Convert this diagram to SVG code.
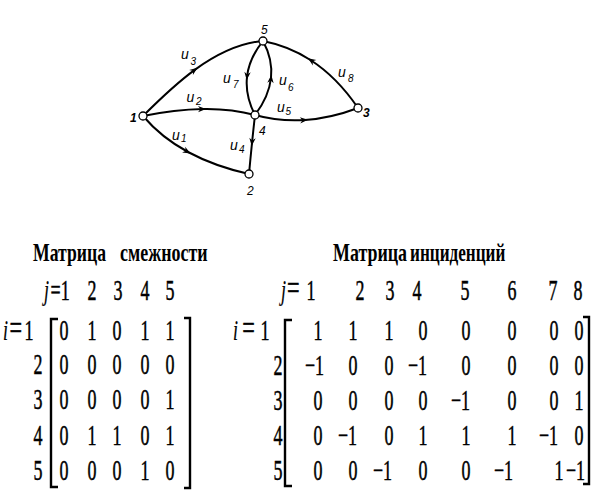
<svg xmlns="http://www.w3.org/2000/svg" width="610" height="503" viewBox="0 0 610 503">
<style>
.e{fill:none;stroke:#000;stroke-width:2;marker-mid:url(#arr)}
.nd{fill:#fff;stroke:#000;stroke-width:1.3}
.lb{font-family:"Liberation Sans",sans-serif;font-style:italic;font-size:14px;fill:#000}
.sb{font-family:"Liberation Sans",sans-serif;font-style:italic;font-size:10px;fill:#000}
.nl{font-family:"Liberation Sans",sans-serif;font-style:italic;font-size:12px;fill:#000}
.t{font-family:"Liberation Serif",serif;font-weight:bold;font-size:26px;fill:#000}
.d{font-family:"Liberation Serif",serif;font-size:29px;fill:#000;stroke:#000;stroke-width:0.5;text-anchor:middle}
.n{font-family:"Liberation Serif",serif;font-size:29px;fill:#000;stroke:#000;stroke-width:0.5;text-anchor:end}
.h{font-family:"Liberation Serif",serif;font-size:29px;fill:#000;stroke:#000;stroke-width:0.5}
.i{font-style:italic;stroke-width:0.2}
.w{font-size:36px}
.br{fill:none;stroke:#000;stroke-width:2.4}
</style>
<defs>
<marker id="arr" viewBox="-8 -5 12 10" refX="0" refY="0" markerWidth="12" markerHeight="10" markerUnits="userSpaceOnUse" orient="auto">
<path d="M3,0 L-5,-3.2 L-2.5,0 L-5,3.2 Z" fill="#000"/>
</marker>
</defs>
<g id="connectors">
<path id="u1" class="e" d="M143,116 Q161.5,137.75 188,152 Q214.5,166.25 249,174"/>
<path id="u2" class="e" d="M143,116 Q175,109.5 203,109 Q231,108.5 255,115"/>
<path id="u3" class="e" d="M143,116 C156.5,102.5 174.5,84.5 195.1,69.6 C215.75,54.75 239,43 263,41"/>
<path id="u4" class="e" d="M255,115 Q253.5,128.25 252,143 Q250.5,157.75 249,174"/>
<path id="u5" class="e" d="M255,115 Q279.25,121.75 305,120 Q330.75,118.25 358,108"/>
<path id="u6" class="e" d="M255,115 Q269,96.5 271,78 Q273,59.5 263,41"/>
<path id="u7" class="e" d="M263,41 Q249,58.5 247,77 Q245,95.5 255,115"/>
<path id="u8" class="e" d="M358,108 Q337.1,77.2 310.45,60 Q288.65,45.95 263,41"/>
</g>
<g id="edge-labels">
<text class="lb" x="181" y="58.5">u</text><text class="sb" x="190.5" y="65">3</text>
<text class="lb" x="223" y="83">u</text><text class="sb" x="233" y="88">7</text>
<text class="lb" x="279" y="85">u</text><text class="sb" x="288" y="91">6</text>
<text class="lb" x="338" y="77">u</text><text class="sb" x="348" y="82">8</text>
<text class="lb" x="186.5" y="102">u</text><text class="sb" x="196" y="105">2</text>
<text class="lb" x="277" y="112">u</text><text class="sb" x="285.5" y="115">5</text>
<text class="lb" x="172" y="140">u</text><text class="sb" x="181" y="142">1</text>
<text class="lb" x="230" y="150">u</text><text class="sb" x="239" y="153">4</text>
</g>
<g id="node1"><circle class="nd" cx="143" cy="116" r="4"/><text class="nl" x="130" y="122" font-weight="bold">1</text></g>
<g id="node2"><circle class="nd" cx="249" cy="174" r="4"/><text class="nl" x="247" y="195">2</text></g>
<g id="node3"><circle class="nd" cx="358" cy="108" r="4"/><text class="nl" x="363" y="117" font-weight="bold">3</text></g>
<g id="node4"><circle class="nd" cx="255" cy="115" r="4"/><text class="nl" x="259" y="135">4</text></g>
<g id="node5"><circle class="nd" cx="263" cy="41" r="4"/><text class="nl" x="261" y="34" font-size="10px">5</text></g>

<g id="adjacency">
<text class="t" transform="translate(33,261) scale(0.68,1)">Матрица</text>
<text class="t" transform="translate(120,261) scale(0.69,1)">смежности</text>
<text class="h" transform="translate(45,300) scale(0.62,1)"><tspan class="i" x="-1.5">j</tspan><tspan x="8.9">=</tspan><tspan x="25.5">1</tspan></text>
<text class="d" transform="translate(92,300) scale(0.62,1)">2</text>
<text class="d" transform="translate(118,300) scale(0.62,1)">3</text>
<text class="d" transform="translate(145,300) scale(0.62,1)">4</text>
<text class="d" transform="translate(170,300) scale(0.62,1)">5</text>
<text class="h" transform="translate(3,340) scale(0.62,1)"><tspan class="i" x="0">i</tspan><tspan class="w" x="10.5">=</tspan><tspan x="34.7">1</tspan></text>
<text class="d" transform="translate(38,374) scale(0.62,1)">2</text>
<text class="d" transform="translate(38,409) scale(0.62,1)">3</text>
<text class="d" transform="translate(38,445) scale(0.62,1)">4</text>
<text class="d" transform="translate(38,480) scale(0.62,1)">5</text>
<path class="br" d="M58,319 H51 V487 H58"/>
<path class="br" d="M184,318 H190 V488 H184"/>
<text class="d" transform="translate(64,340) scale(0.62,1)">0</text>
<text class="d" transform="translate(92,340) scale(0.62,1)">1</text>
<text class="d" transform="translate(117,340) scale(0.62,1)">0</text>
<text class="d" transform="translate(145,340) scale(0.62,1)">1</text>
<text class="d" transform="translate(170,340) scale(0.62,1)">1</text>
<text class="d" transform="translate(64,374) scale(0.62,1)">0</text>
<text class="d" transform="translate(92,374) scale(0.62,1)">0</text>
<text class="d" transform="translate(117,374) scale(0.62,1)">0</text>
<text class="d" transform="translate(145,374) scale(0.62,1)">0</text>
<text class="d" transform="translate(170,374) scale(0.62,1)">0</text>
<text class="d" transform="translate(64,409) scale(0.62,1)">0</text>
<text class="d" transform="translate(92,409) scale(0.62,1)">0</text>
<text class="d" transform="translate(117,409) scale(0.62,1)">0</text>
<text class="d" transform="translate(145,409) scale(0.62,1)">0</text>
<text class="d" transform="translate(170,409) scale(0.62,1)">1</text>
<text class="d" transform="translate(64,445) scale(0.62,1)">0</text>
<text class="d" transform="translate(92,445) scale(0.62,1)">1</text>
<text class="d" transform="translate(117,445) scale(0.62,1)">1</text>
<text class="d" transform="translate(145,445) scale(0.62,1)">0</text>
<text class="d" transform="translate(170,445) scale(0.62,1)">1</text>
<text class="d" transform="translate(64,480) scale(0.62,1)">0</text>
<text class="d" transform="translate(92,480) scale(0.62,1)">0</text>
<text class="d" transform="translate(117,480) scale(0.62,1)">0</text>
<text class="d" transform="translate(145,480) scale(0.62,1)">1</text>
<text class="d" transform="translate(170,480) scale(0.62,1)">0</text>
</g>

<g id="incidence">
<text class="t" transform="translate(333,261) scale(0.69,1)">Матрица</text>
<text class="t" transform="translate(410,261) scale(0.66,1)">инциденций</text>
<text class="h" transform="translate(281,300) scale(0.62,1)"><tspan class="i" x="0">j</tspan><tspan class="w" x="9.7">=</tspan><tspan x="41.1">1</tspan></text>
<text class="d" transform="translate(360,300) scale(0.62,1)">2</text>
<text class="d" transform="translate(390,300) scale(0.62,1)">3</text>
<text class="d" transform="translate(417,300) scale(0.62,1)">4</text>
<text class="d" transform="translate(465,300) scale(0.62,1)">5</text>
<text class="d" transform="translate(512,300) scale(0.62,1)">6</text>
<text class="d" transform="translate(553,300) scale(0.62,1)">7</text>
<text class="d" transform="translate(578,300) scale(0.62,1)">8</text>
<text class="h" transform="translate(233,340) scale(0.62,1)"><tspan class="i" x="0">i</tspan><tspan class="w" x="15">=</tspan><tspan x="44.4">1</tspan></text>
<text class="d" transform="translate(278,375) scale(0.62,1)">2</text>
<text class="d" transform="translate(278,410) scale(0.62,1)">3</text>
<text class="d" transform="translate(278,445) scale(0.62,1)">4</text>
<text class="d" transform="translate(278,480) scale(0.62,1)">5</text>
<path class="br" d="M292,320 H285 V486 H292"/>
<path class="br" d="M583,317 H589 V484 H583"/>
<text class="d" transform="translate(318,340) scale(0.62,1)">1</text>
<text class="d" transform="translate(353,340) scale(0.62,1)">1</text>
<text class="d" transform="translate(389,340) scale(0.62,1)">1</text>
<text class="d" transform="translate(423,340) scale(0.62,1)">0</text>
<text class="d" transform="translate(466,340) scale(0.62,1)">0</text>
<text class="d" transform="translate(512,340) scale(0.62,1)">0</text>
<text class="d" transform="translate(554,340) scale(0.62,1)">0</text>
<text class="d" transform="translate(579,340) scale(0.62,1)">0</text>
<text class="n" transform="translate(324,375) scale(0.62,1)">−1</text>
<text class="d" transform="translate(353,375) scale(0.62,1)">0</text>
<text class="d" transform="translate(389,375) scale(0.62,1)">0</text>
<text class="n" transform="translate(427,375) scale(0.62,1)">−1</text>
<text class="d" transform="translate(466,375) scale(0.62,1)">0</text>
<text class="d" transform="translate(512,375) scale(0.62,1)">0</text>
<text class="d" transform="translate(554,375) scale(0.62,1)">0</text>
<text class="d" transform="translate(579,375) scale(0.62,1)">0</text>
<text class="d" transform="translate(318,410) scale(0.62,1)">0</text>
<text class="d" transform="translate(353,410) scale(0.62,1)">0</text>
<text class="d" transform="translate(389,410) scale(0.62,1)">0</text>
<text class="d" transform="translate(423,410) scale(0.62,1)">0</text>
<text class="n" transform="translate(470,410) scale(0.62,1)">−1</text>
<text class="d" transform="translate(512,410) scale(0.62,1)">0</text>
<text class="d" transform="translate(554,410) scale(0.62,1)">0</text>
<text class="d" transform="translate(579,410) scale(0.62,1)">1</text>
<text class="d" transform="translate(318,445) scale(0.62,1)">0</text>
<text class="n" transform="translate(357,445) scale(0.62,1)">−1</text>
<text class="d" transform="translate(389,445) scale(0.62,1)">0</text>
<text class="d" transform="translate(423,445) scale(0.62,1)">1</text>
<text class="d" transform="translate(466,445) scale(0.62,1)">1</text>
<text class="d" transform="translate(512,445) scale(0.62,1)">1</text>
<text class="n" transform="translate(558,445) scale(0.62,1)">−1</text>
<text class="d" transform="translate(579,445) scale(0.62,1)">0</text>
<text class="d" transform="translate(318,480) scale(0.62,1)">0</text>
<text class="d" transform="translate(353,480) scale(0.62,1)">0</text>
<text class="n" transform="translate(392,480) scale(0.62,1)">−1</text>
<text class="d" transform="translate(423,480) scale(0.62,1)">0</text>
<text class="d" transform="translate(466,480) scale(0.62,1)">0</text>
<text class="n" transform="translate(513,480) scale(0.62,1)">−1</text>
<text class="d" transform="translate(559,480) scale(0.62,1)">1</text>
<text class="n" transform="translate(585,480) scale(0.62,1)">−1</text>
</g>
</svg>
